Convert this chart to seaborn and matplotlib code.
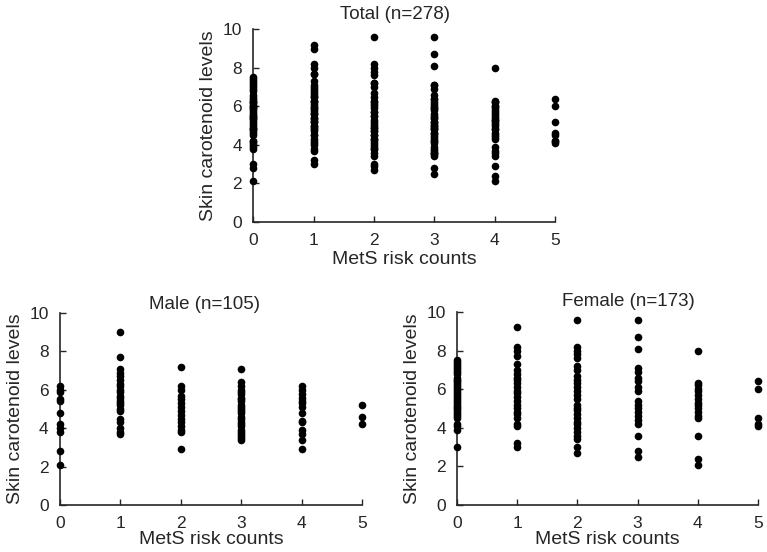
import pandas as pd
import matplotlib
matplotlib.use("Agg")
import matplotlib.pyplot as plt
import seaborn as sns

# skin carotenoid levels per MetS risk count
counts = [0, 1, 2, 3, 4, 5]

male_0 = [6.2, 6.0, 5.9, 5.5, 5.4, 4.8, 4.2, 4.0, 3.8, 2.8, 2.1]
male_1 = [9.0, 7.7, 7.1, 6.9, 6.7, 6.5, 6.3, 6.2, 6.0, 5.9, 5.7, 5.6, 5.4,
          5.3, 5.2, 5.0, 4.9, 4.5, 4.3, 4.0, 3.8, 3.7]
male_2 = [7.2, 6.2, 6.0, 5.7, 5.5, 5.3, 5.1, 4.9, 4.7, 4.5, 4.3, 4.1, 3.9,
          3.8, 2.9]
male_3 = [7.1, 6.4, 6.2, 6.0, 5.9, 5.8, 5.6, 5.5, 5.4, 5.2, 5.1, 5.0, 4.9,
          4.8, 4.6, 4.5, 4.3, 4.2, 4.1, 3.9, 3.8, 3.7, 3.6, 3.5, 3.4]
male_4 = [6.2, 6.0, 5.8, 5.6, 5.4, 5.3, 5.1, 4.8, 4.4, 4.3, 3.9, 3.7, 3.4, 2.9]
male_5 = [5.2, 4.6, 4.2]

female_0 = [7.5, 7.4, 7.3, 7.2, 7.1, 7.0, 6.9, 6.8, 6.6, 6.5, 6.4, 6.3, 6.2,
            6.1, 6.0, 5.9, 5.8, 5.7, 5.6, 5.5, 5.4, 5.3, 5.2, 5.1, 5.0, 4.9,
            4.8, 4.7, 4.6, 4.5, 4.2, 4.1, 3.9, 3.0]
female_1 = [9.2, 8.2, 8.0, 7.7, 7.3, 7.0, 6.8, 6.6, 6.5, 6.3, 6.1, 5.9, 5.8,
            5.6, 5.4, 5.2, 5.0, 4.8, 4.7, 4.5, 4.2, 4.1, 3.2, 3.0]
female_2 = [9.6, 8.2, 8.0, 7.8, 7.6, 7.2, 7.0, 6.7, 6.5, 6.3, 6.1, 5.9, 5.7,
            5.5, 5.2, 5.0, 4.9, 4.7, 4.5, 4.3, 4.2, 4.0, 3.8, 3.6, 3.4, 3.0, 2.7]
female_3 = [9.6, 8.7, 8.1, 7.1, 6.9, 6.6, 6.4, 6.1, 5.9, 5.4, 5.2, 5.0, 4.8,
            4.6, 4.4, 4.2, 3.6, 2.8, 2.5]
female_4 = [8.0, 6.3, 6.2, 6.0, 5.9, 5.7, 5.5, 5.3, 5.2, 5.0, 4.8, 4.6, 4.5,
            3.6, 2.4, 2.1]
female_5 = [6.4, 6.0, 4.5, 4.2, 4.1]

male = [male_0, male_1, male_2, male_3, male_4, male_5]
female = [female_0, female_1, female_2, female_3, female_4, female_5]

rows = []
for sex, groups in [("Male", male), ("Female", female)]:
    for c, vals in zip(counts, groups):
        for v in vals:
            rows.append({"sex": sex, "count": c, "level": v})
df = pd.DataFrame(rows)

sns.set_style("ticks")
plt.rcParams["font.family"] = ["Liberation Sans", "DejaVu Sans"]

fig = plt.figure(figsize=(7.67, 5.52), dpi=100)
ax_total = fig.add_axes([0.330, 0.598, 0.394, 0.349])
ax_male = fig.add_axes([0.078, 0.085, 0.394, 0.348])
ax_female = fig.add_axes([0.596, 0.085, 0.392, 0.350])

# axes, data, title, title x, title y, xlabel pad
panels = [
    (ax_total, df, "Total (n=278)", 0.47, 1.035, 2),
    (ax_male, df[df.sex == "Male"], "Male (n=105)", 0.48, 1.0, 0.2),
    (ax_female, df[df.sex == "Female"], "Female (n=173)", 0.57, 1.01, 0.2),
]

for ax, d, title, tx, ty, xpad in panels:
    sns.stripplot(data=d, x="count", y="level", ax=ax, native_scale=True,
                  jitter=False, color="black", size=5.5, linewidth=0,
                  clip_on=False)
    ax.set_xlim(0, 5)
    ax.set_ylim(0, 10)
    ax.set_xticks(counts)
    ax.set_yticks([0, 2, 4, 6, 8, 10])
    ax.tick_params(direction="in", length=4, width=1, labelsize=12.5, pad=8)
    for s in ["top", "right"]:
        ax.spines[s].set_visible(False)
    for s in ["left", "bottom"]:
        ax.spines[s].set_linewidth(1.2)
    ax.set_xlabel("MetS risk counts", fontsize=14, labelpad=xpad)
    ax.set_ylabel("Skin carotenoid levels", fontsize=14, labelpad=4)
    ax.set_title(title, fontsize=13.5, x=tx, y=ty, va="bottom", pad=0)

fig.savefig("out.png", dpi=100)
